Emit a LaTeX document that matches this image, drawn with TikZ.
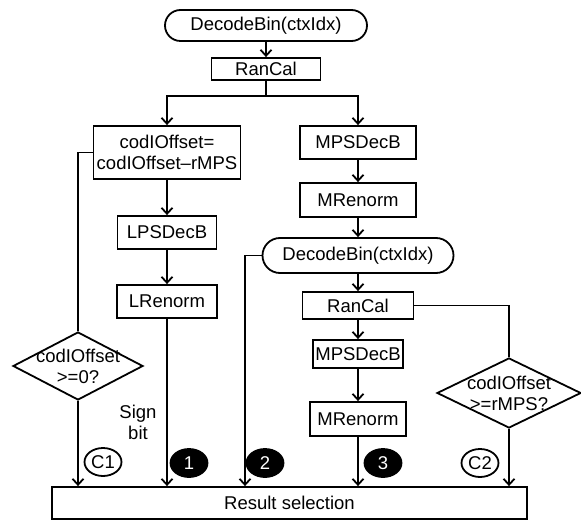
\documentclass[tikz,border=0pt]{standalone}
\usepackage{fontspec}
\setmainfont{Liberation Sans}
\usetikzlibrary{arrows.meta,shapes.geometric,shapes.misc,positioning}

\begin{document}
\begin{tikzpicture}[x=1pt, y=-1pt, line width=1.8pt,
    >={Straight Barb[length=6pt,width=11pt]},
    font=\fontsize{18.5}{21}\selectfont]
  \tikzstyle{block}=[draw, rectangle, inner sep=2pt, align=center]
  \tikzstyle{term}=[draw, rounded rectangle, inner sep=2pt]
  \tikzstyle{decision}=[draw, diamond, inner sep=0pt]
  \tikzstyle{tagopen}=[draw, ellipse, inner sep=0pt, minimum width=37pt, minimum height=28pt]
  \tikzstyle{tagfull}=[tagopen, fill=black, text=white]

  \useasboundingbox (0,0) rectangle (581,521);

  %% Top
  \node[term, minimum width=206pt, minimum height=31pt] (top) at (266,25.5) {DecodeBin(ctxIdx)};
  \node[block, minimum width=109pt, minimum height=22pt] (rc1) [below of=top, node distance=43.5pt] {RanCal};

  %% LPS branch
  \node[block, minimum width=147pt, minimum height=53pt] (off) at (167,152.5) {codIOffset=\\codIOffset–rMPS};
  \node[block, minimum width=99pt, minimum height=33pt]  (lps) [below of=off, node distance=80pt] {LPSDecB};
  \node[block, minimum width=100pt, minimum height=33pt] (lr)  [below of=lps, node distance=69pt] {LRenorm};
  \node[decision, minimum width=130pt, minimum height=68pt,
        label={[align=center]center:codIOffset\\>=0?}] (d1) at (78,366) {};

  %% MPS branch
  \node[block, minimum width=116pt, minimum height=33pt] (mps1) at (358,142.5) {MPSDecB};
  \node[block, minimum width=116pt, minimum height=34pt] (mr1)  [below of=mps1, node distance=57.5pt] {MRenorm};
  \node[term, minimum width=195pt, minimum height=35pt]  (db2)  [below of=mr1, node distance=55.5pt] {DecodeBin(ctxIdx)};
  \node[block, minimum width=111pt, minimum height=27pt] (rc2)  [below of=db2, node distance=50pt] {RanCal};
  \node[block, minimum width=88pt, minimum height=28pt]  (mps2) [below of=rc2, node distance=48.5pt] {MPSDecB};
  \node[block, minimum width=96pt, minimum height=34pt]  (mr2)  [below of=mps2, node distance=65pt] {MRenorm};
  \node[decision, minimum width=144pt, minimum height=70pt,
        label={[align=center]center:codIOffset\\>=rMPS?}] (d2) at (509,393) {};

  %% Result
  \node[block, minimum width=475pt, minimum height=32pt] (res) at (289.5,503) {Result selection};
  \coordinate (db2l) at (245,255.5);

  %% Marks
  \node[tagopen] (c1) at (103,462) {C1};
  \node[tagfull] (b1) at (189,463) {1};
  \node[tagfull] (b2) at (265,463) {2};
  \node[tagfull] (b3) at (383,463) {3};
  \node[tagopen] (c2) at (480,463) {C2};
  \node[align=center] (sign) at (138,422) {Sign\\bit};

  %% Top paths
  \draw[->] (top) -- (rc1);
  \draw[->] (rc1.south) -- ++(0,15) coordinate (split) -| (off);
  \draw[->] (split) -| (mps1);

  %% LPS paths
  \draw (off.west) -| (d1.north);
  \draw[->] (d1.south) -- (d1.south |- res.north);
  \draw[->] (off) -- (lps);
  \draw[->] (lps) -- (lr);
  \draw[->] (lr) -- (lr |- res.north);

  %% MPS paths
  \draw[->] (mps1) -- (mr1);
  \draw[->] (mr1) -- (db2);
  \draw[->] (db2.west) -- (db2l) -- (db2l |- res.north);
  \draw[->] (db2) -- (rc2);
  \draw[->] (rc2) -- (mps2);
  \draw[->] (mps2) -- (mr2);
  \draw[->] (mr2) -- (mr2 |- res.north);
  \draw (rc2.east) -| (d2.north);
  \draw[->] (d2.south) -- (d2.south |- res.north);
\end{tikzpicture}
\end{document}
